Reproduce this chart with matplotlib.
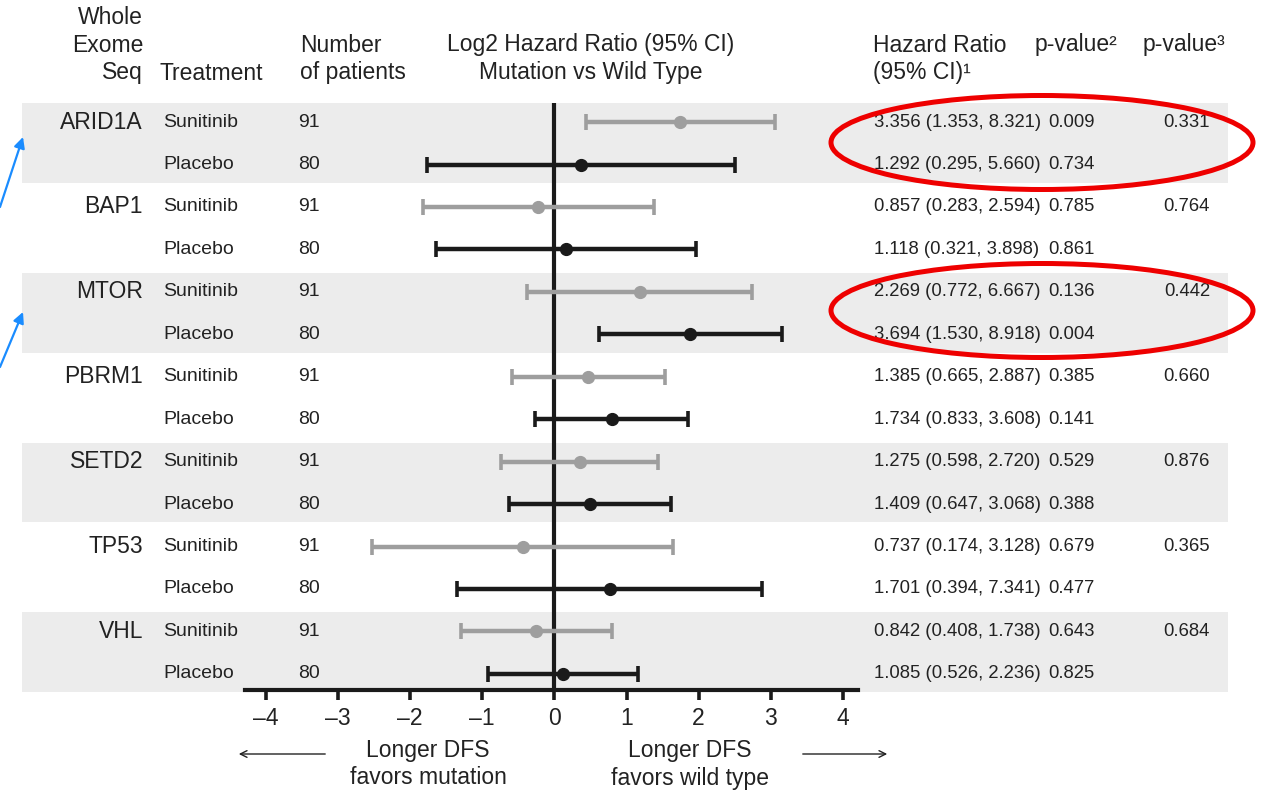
import numpy as np
import matplotlib
matplotlib.use("Agg")
import matplotlib.pyplot as plt
from matplotlib.patches import Rectangle, Ellipse
from matplotlib.transforms import blended_transform_factory

plt.rcParams['font.family'] = ['Liberation Sans', 'DejaVu Sans']

# ---------------- data ----------------
genes = ['ARID1A', 'BAP1', 'MTOR', 'PBRM1', 'SETD2', 'TP53', 'VHL']
treatments = ['Sunitinib', 'Placebo']
n_patients = [91, 80]

hr_sun = [3.356, 0.857, 2.269, 1.385, 1.275, 0.737, 0.842]
lo_sun = [1.353, 0.283, 0.772, 0.665, 0.598, 0.174, 0.408]
hi_sun = [8.321, 2.594, 6.667, 2.887, 2.720, 3.128, 1.738]
p2_sun = ['0.009', '0.785', '0.136', '0.385', '0.529', '0.679', '0.643']

hr_pla = [1.292, 1.118, 3.694, 1.734, 1.409, 1.701, 1.085]
lo_pla = [0.295, 0.321, 1.530, 0.833, 0.647, 0.394, 0.526]
hi_pla = [5.660, 3.898, 8.918, 3.608, 3.068, 7.341, 2.236]
p2_pla = ['0.734', '0.861', '0.004', '0.141', '0.388', '0.477', '0.825']

p3 = ['0.331', '0.764', '0.442', '0.660', '0.876', '0.365', '0.684']

shaded = ['ARID1A', 'MTOR', 'SETD2', 'VHL']
xticks = [-4, -3, -2, -1, 0, 1, 2, 3, 4]
xtick_labels = ['\u20134', '\u20133', '\u20132', '\u20131', '0', '1', '2', '3', '4']

# ---------------- figure ----------------
W, H = 1266, 793
fig = plt.figure(figsize=(W / 100, H / 100), dpi=100)

# overlay axes in pixel units for layout / annotations
ov = fig.add_axes([0, 0, 1, 1], zorder=0)
ov.set_xlim(0, W)
ov.set_ylim(H, 0)
ov.axis('off')

# main forest axes
ax_left, ax_right, ax_top, ax_bot = 245, 858, 103, 690
ax = fig.add_axes([ax_left / W, (H - ax_bot) / H, (ax_right - ax_left) / W, (ax_bot - ax_top) / H], zorder=1)
ax.patch.set_alpha(0)
ax.set_xlim(-4.29, 4.21)
ax.set_ylim(13.38, -0.45)

TXT = '#222222'
GRAY = '#9e9e9e'
BLACK = '#1a1a1a'

tr = blended_transform_factory(ov.transData, ax.transData)

# bands
for gi, g in enumerate(genes):
    if g in shaded:
        ov.add_patch(Rectangle((22, 2 * gi - 0.45), 1228 - 22, 1.88, transform=tr,
                               facecolor='#ececec', edgecolor='none', zorder=0))

# zero line
ax.axvline(0, color=BLACK, lw=3.0, zorder=2)

# error bars
ysun = np.arange(len(genes)) * 2
ypla = ysun + 1
ls = np.log2(hr_sun); lsl = np.log2(lo_sun); lsh = np.log2(hi_sun)
lp = np.log2(hr_pla); lpl = np.log2(lo_pla); lph = np.log2(hi_pla)
ax.errorbar(ls, ysun, xerr=[ls - lsl, lsh - ls], fmt='o', color=GRAY, ms=8.5,
            elinewidth=3.2, capsize=6, capthick=2.6, zorder=3)
ax.errorbar(lp, ypla, xerr=[lp - lpl, lph - lp], fmt='o', color=BLACK, ms=8.5,
            elinewidth=3.2, capsize=6, capthick=2.6, zorder=4)

# axis styling
for s in ['top', 'left', 'right']:
    ax.spines[s].set_visible(False)
ax.spines['bottom'].set_linewidth(3.0)
ax.spines['bottom'].set_color(BLACK)
ax.set_yticks([])
ax.set_xticks(xticks)
ax.set_xticklabels(xtick_labels, fontsize=16.5, color=TXT)
ax.tick_params(axis='x', direction='out', length=7.5, width=2.6, color=BLACK, pad=5)

# row texts
for gi, g in enumerate(genes):
    ys, yp = ysun[gi], ypla[gi]
    ov.text(143, ys, g, transform=tr, ha='right', va='center', fontsize=16.5, color=TXT)
    ov.text(163, ys, treatments[0], transform=tr, ha='left', va='center', fontsize=14, color=TXT)
    ov.text(163, yp, treatments[1], transform=tr, ha='left', va='center', fontsize=14, color=TXT)
    ov.text(298, ys, str(n_patients[0]), transform=tr, ha='left', va='center', fontsize=14, color=TXT)
    ov.text(298, yp, str(n_patients[1]), transform=tr, ha='left', va='center', fontsize=14, color=TXT)
    ov.text(874, ys, f'{hr_sun[gi]:.3f} ({lo_sun[gi]:.3f}, {hi_sun[gi]:.3f})', transform=tr,
            ha='left', va='center', fontsize=13.3, color=TXT)
    ov.text(874, yp, f'{hr_pla[gi]:.3f} ({lo_pla[gi]:.3f}, {hi_pla[gi]:.3f})', transform=tr,
            ha='left', va='center', fontsize=13.3, color=TXT)
    ov.text(1048, ys, p2_sun[gi], transform=tr, ha='left', va='center', fontsize=13.3, color=TXT)
    ov.text(1048, yp, p2_pla[gi], transform=tr, ha='left', va='center', fontsize=13.3, color=TXT)
    ov.text(1210, ys, p3[gi], transform=tr, ha='right', va='center', fontsize=13.3, color=TXT)

# headers
hs = 16.5
ov.text(143, 18, 'Whole', ha='right', va='center', fontsize=hs, color=TXT)
ov.text(143, 45, 'Exome', ha='right', va='center', fontsize=hs, color=TXT)
ov.text(143, 73, 'Seq', ha='right', va='center', fontsize=hs, color=TXT)
ov.text(159, 73, 'Treatment', ha='left', va='center', fontsize=hs, color=TXT)
ov.text(300, 45, 'Number', ha='left', va='center', fontsize=hs, color=TXT)
ov.text(300, 73, 'of patients', ha='left', va='center', fontsize=hs, color=TXT)
ov.text(591, 45, 'Log2 Hazard Ratio (95% CI)', ha='center', va='center', fontsize=hs, color=TXT)
ov.text(591, 73, 'Mutation vs Wild Type', ha='center', va='center', fontsize=hs, color=TXT)
ov.text(873, 45, 'Hazard Ratio', ha='left', va='center', fontsize=hs, color=TXT)
ov.text(873, 73, '(95% CI)\u00b9', ha='left', va='center', fontsize=hs, color=TXT)
ov.text(1035, 45, 'p-value\u00b2', ha='left', va='center', fontsize=hs, color=TXT)
ov.text(1143, 45, 'p-value\u00b3', ha='left', va='center', fontsize=hs, color=TXT)

# bottom direction labels
ov.text(428, 750, 'Longer DFS', ha='center', va='center', fontsize=16.5, color=TXT)
ov.text(428, 778, 'favors mutation', ha='center', va='center', fontsize=16.5, color=TXT)
ov.text(690, 750, 'Longer DFS', ha='center', va='center', fontsize=16.5, color=TXT)
ov.text(690, 778, 'favors wild type', ha='center', va='center', fontsize=16.5, color=TXT)
ov.annotate('', xy=(236, 754), xytext=(328, 754),
            arrowprops=dict(arrowstyle='->', lw=1.0, color=TXT, mutation_scale=12))
ov.annotate('', xy=(890, 754), xytext=(800, 754),
            arrowprops=dict(arrowstyle='->', lw=1.0, color=TXT, mutation_scale=12))

# red ellipses
for cy in (142.5, 310.5):
    ov.add_patch(Ellipse((1042, cy), 422, 94, facecolor='none', edgecolor='#ee0000', lw=3.6, zorder=5))

# blue arrows
for (x0, y0, x1, y1) in [(0, 207, 23, 137), (0, 367, 23, 312)]:
    ov.annotate('', xy=(x1, y1), xytext=(x0, y0),
                arrowprops=dict(arrowstyle='-|>', lw=1.6, color='#1a8cff', mutation_scale=16,
                                shrinkA=0, shrinkB=0))

fig.savefig('out.png', dpi=100)
